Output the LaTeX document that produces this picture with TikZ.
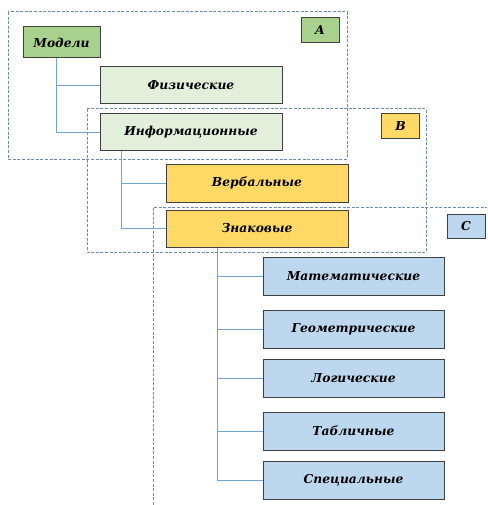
\documentclass[tikz,border=0pt]{standalone}
\usepackage{fontspec}
\setmainfont{DejaVu Serif}
\usepackage{tikz}

\definecolor{grdark}{HTML}{A9D18E}
\definecolor{grlight}{HTML}{E2EFDA}
\definecolor{yel}{HTML}{FFD966}
\definecolor{blu}{HTML}{BDD7EE}
\definecolor{edge}{HTML}{404040}
\definecolor{linkc}{HTML}{6FA3DA}
\definecolor{groupc}{HTML}{6A8DB5}

\tikzset{
	box/.style={draw=edge, line width=1pt, inner sep=0pt,
		font=\fontsize{12.3}{14}\selectfont\bfseries\itshape},
	tag/.style={box, minimum width=38pt, minimum height=25pt},
	link/.style={draw=linkc, line width=0.9pt},
	group/.style={draw=groupc, line width=1pt, dash pattern=on 3pt off 1.6pt}
}

\begin{document}
\begin{tikzpicture}[x=1pt, y=-1pt]
		\useasboundingbox (0,0) rectangle (487,505);
		% groups
		\draw[group] (8,12) rectangle (347,159);
		\draw[group] (87,109) rectangle (426,252);
		\draw[group] (153,505) -- (153,207) -- (487,207);

		% top level
		\node[box, fill=grdark, minimum width=77pt, minimum height=31pt] (modeli) at (61.5,42.5) {Модели};
		\node[box, fill=grlight, minimum width=182pt, minimum height=37pt] (fiz) at (191,85.5) {Физические};
		\node[box, fill=grlight, minimum width=182pt, minimum height=37pt] (inf) at (191,132.5) {Информационные};

		% second level
		\node[box, fill=yel, minimum width=182pt, minimum height=38pt] (verb) at (257,183) {Вербальные};
		\node[box, fill=yel, minimum width=182pt, minimum height=37pt] (znak) at (257,228.5) {Знаковые};

		% third level
		\foreach \name/\y/\txt in {mat/276/Математические, geom/329/Геометрические,
			log/378.5/Логические, tabl/431/Табличные, spec/480/Специальные}
			\node[box, fill=blu, minimum width=181pt, minimum height=38pt] (\name) at (353.5,\y) {\txt};

		% group tags
		\node[tag, fill=grdark] (tagA) at (320,30) {A};
		\node[tag, fill=yel] (tagB) at (400.5,126.5) {B};
		\node[tag, fill=blu, minimum height=24pt] (tagC) at (466,226) {C};

		% links
		\draw[link] ([xshift=-5.5pt]modeli.south) |- (fiz.west);
		\draw[link] ([xshift=-5.5pt]modeli.south) |- (inf.west);
		\draw[link] ([xshift=22pt]inf.south west) |- (verb.west);
		\draw[link] ([xshift=22pt]inf.south west) |- (znak.west);
		\foreach \name in {mat, geom, log, tabl, spec}
			\draw[link] ([xshift=52pt]znak.south west) |- (\name.west);
	\end{tikzpicture}
\end{document}
